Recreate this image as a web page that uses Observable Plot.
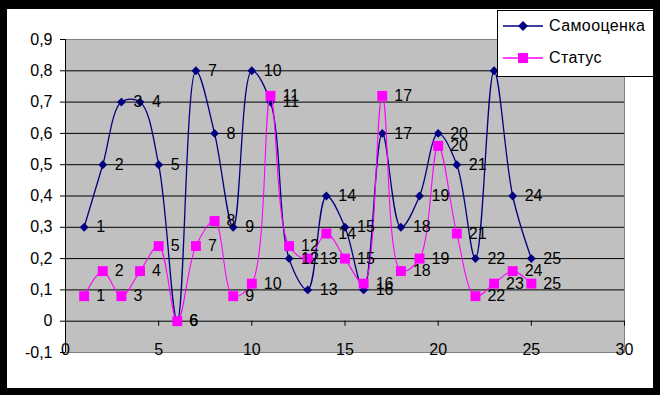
<!DOCTYPE html>
<html><head><meta charset="utf-8">
<script src="https://cdn.jsdelivr.net/npm/d3@7"></script>
<script src="https://cdn.jsdelivr.net/npm/@observablehq/plot@0.6"></script>
<style>
html,body{margin:0;padding:0;background:#fff;}
#wrap{position:relative;width:660px;height:395px;overflow:hidden;font-family:"Liberation Sans",Arial,sans-serif;}
#chart svg{display:block}
#legend{position:absolute;left:497px;top:10px;width:170px;height:65px;border:1px solid #000;background:#fff;}
.item{position:absolute;left:5px;height:20px;display:flex;align-items:center;font-size:16px;letter-spacing:0.4px;color:#000;}
.item svg{margin-right:4px;display:block}
#frame{position:absolute;left:0;top:0;width:660px;height:395px;box-sizing:border-box;border-style:solid;border-color:#000;border-width:9px 7px 7px 7px;pointer-events:none}
</style></head><body>
<div id="wrap"><div id="chart"></div><div id="legend"></div><div id="frame"></div></div>
<script>
const idx = [1,2,3,4,5,6,7,8,9,10,11,12,13,14,15,16,17,18,19,20,21,22,23,24,25];
const selfScore = [0.3,0.5,0.7,0.7,0.5,0,0.8,0.6,0.3,0.8,0.7,0.2,0.1,0.4,0.3,0.1,0.6,0.3,0.4,0.6,0.5,0.2,0.8,0.4,0.2];
const status = [0.08,0.16,0.08,0.16,0.24,0,0.24,0.32,0.08,0.12,0.72,0.24,0.2,0.28,0.2,0.12,0.72,0.16,0.2,0.56,0.28,0.08,0.12,0.16,0.12];
const seriesNames = ["Самооценка","Статус"];
const seriesColors = ["#000080","#FF00FF"];
const xTicks = [0,5,10,15,20,25,30];
const yTicks = [-0.1,0,0.1,0.2,0.3,0.4,0.5,0.6,0.7,0.8,0.9];
const gridVals = [0,0.1,0.2,0.3,0.4,0.5,0.6,0.7,0.8];

const s1 = idx.map((x,i)=>({x, y: selfScore[i]}));
const s2 = idx.map((x,i)=>({x, y: status[i]}));
const fmt = d => String(Math.round(d*10)/10).replace(".", ",");

const chart = Plot.plot({
  width: 660, height: 395,
  marginLeft: 65, marginRight: 36, marginTop: 39, marginBottom: 43,
  style: {background: "transparent", fontFamily: "'Liberation Sans', Arial, sans-serif", fontSize: "16px", color: "#000"},
  x: {domain: [0,30], axis: null},
  y: {domain: [-0.1,0.9], ticks: yTicks, tickFormat: fmt, tickSize: 5, tickPadding: 8, label: null},
  marks: [
    Plot.frame({fill: "#C0C0C0", stroke: "#808080"}),
    Plot.ruleY(gridVals, {stroke: "#000", strokeWidth: 1}),
    Plot.ruleX([0], {stroke: "#000", strokeWidth: 1}),
    Plot.ruleX(xTicks, {x: d=>d, y1: 0, y2: 0, insetBottom: -5, stroke: "#000"}),
    Plot.text(xTicks, {x: d=>d, y: -0.1, text: d=>String(d), dy: -3, fontSize: 16, fill: "#000"}),
    Plot.line(s1, {x: "x", y: "y", stroke: seriesColors[0], strokeWidth: 1.3, curve: "catmull-rom"}),
    Plot.dot(s1, {x: "x", y: "y", symbol: "diamond2", r: 4, fill: seriesColors[0], stroke: "none"}),
    Plot.line(s2, {x: "x", y: "y", stroke: seriesColors[1], strokeWidth: 1.1, curve: "catmull-rom"}),
    Plot.dot(s2, {x: "x", y: "y", symbol: "square", r: 5.6, fill: seriesColors[1], stroke: "none"}),
    Plot.text(s1, {x: "x", y: "y", text: d=>String(d.x), dx: 12, textAnchor: "start", fontSize: 16, fill: "#000"}),
    Plot.text(s2, {x: "x", y: "y", text: d=>String(d.x), dx: 12, textAnchor: "start", fontSize: 16, fill: "#000"})
  ]
});
document.getElementById("chart").appendChild(chart);

const legend = document.getElementById("legend");
const symbols = [
  '<polygon points="20,1 25,6 20,11 15,6" fill="#000080"/>',
  '<rect x="15" y="1" width="10" height="10" fill="#FF00FF"/>'
];
seriesNames.forEach((name,i)=>{
  const d = document.createElement("div");
  d.className = "item";
  d.style.top = (i===0 ? 5 : 37) + "px";
  d.innerHTML = `<svg width="42" height="12"><line x1="0" y1="6" x2="40" y2="6" stroke="${seriesColors[i]}" stroke-width="1.3"/>${symbols[i]}</svg><span>${name}</span>`;
  legend.appendChild(d);
});
</script>
</body></html>
